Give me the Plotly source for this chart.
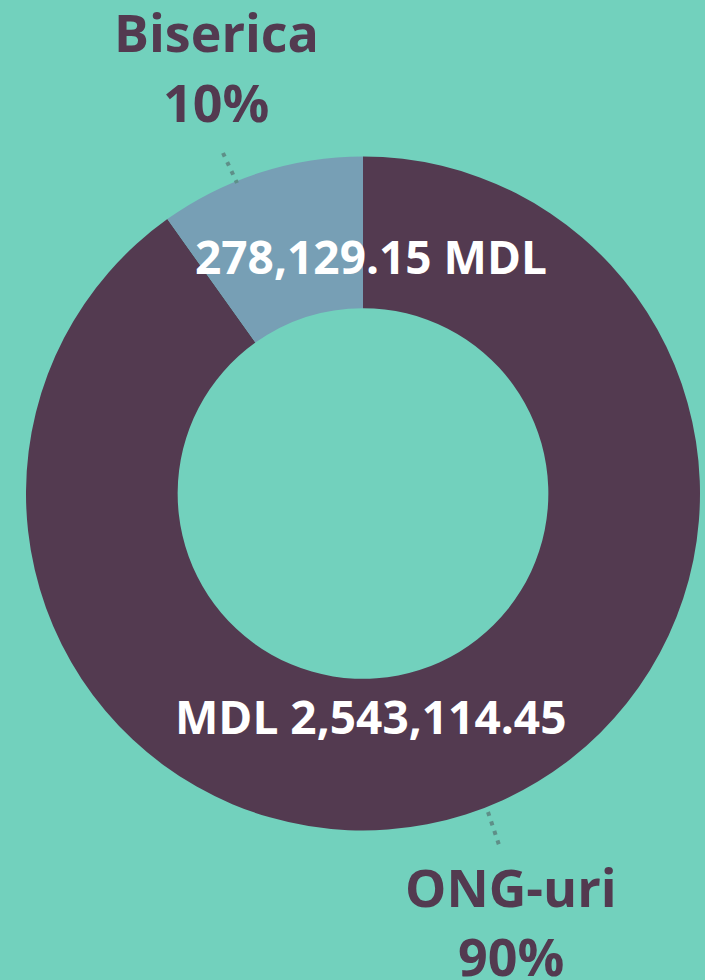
import plotly.graph_objects as go

categories = ["ONG-uri", "Biserica"]
values = [2543114.45, 278129.15]
value_labels = ["MDL 2,543,114.45", "278,129.15 MDL"]
colors = ["#533A50", "#779FB5"]

BG = "#72D1BD"
TEXT_DARK = "#533A50"
W, H = 705, 980

total = sum(values)
pcts = [f"{round(v / total * 100)}%" for v in values]

def px(x):
    return x / W

def py(y):
    return 1 - y / H

cx, cy, r = 363, 493.5, 337

fig = go.Figure(
    go.Pie(
        labels=categories,
        values=values,
        hole=0.55,
        sort=False,
        direction="clockwise",
        rotation=0,
        marker=dict(colors=colors, line=dict(width=0)),
        textinfo="none",
        hoverinfo="skip",
        showlegend=False,
        domain=dict(x=[px(cx - r), px(cx + r)], y=[py(cy + r), py(cy - r)]),
    )
)

font_in = dict(family="Open Sans", size=46, color="white", weight=700)
font_out = dict(family="Open Sans", size=52, color=TEXT_DARK, weight=700)

annotations = [
    dict(x=px(371), y=py(256), text=value_labels[1], font=font_in),
    dict(x=px(370), y=py(716), text=value_labels[0], font=font_in),
    dict(x=px(216), y=py(31), text=categories[1], font=font_out),
    dict(x=px(216), y=py(101), text=pcts[1], font=font_out),
    dict(x=px(511), y=py(886), text=categories[0], font=font_out),
    dict(x=px(511), y=py(955), text=pcts[0], font=font_out),
]
for a in annotations:
    a.update(xref="paper", yref="paper", showarrow=False,
             xanchor="center", yanchor="middle")

dot_line = dict(color="#5E8F88", width=4, dash="4px,6px")
shapes = [
    dict(type="line", xref="paper", yref="paper",
         x0=px(223), y0=py(153), x1=px(237), y1=py(183), line=dot_line),
    dict(type="line", xref="paper", yref="paper",
         x0=px(488), y0=py(812), x1=px(500), y1=py(848), line=dot_line),
]

fig.update_layout(
    width=W, height=H,
    margin=dict(l=0, r=0, t=0, b=0),
    paper_bgcolor=BG, plot_bgcolor=BG,
    annotations=annotations,
    shapes=shapes,
)

fig.write_html(
    "out.html",
    config={"displayModeBar": False},
    post_script="document.body.style.margin='0';document.body.style.background='" + BG + "';",
)
